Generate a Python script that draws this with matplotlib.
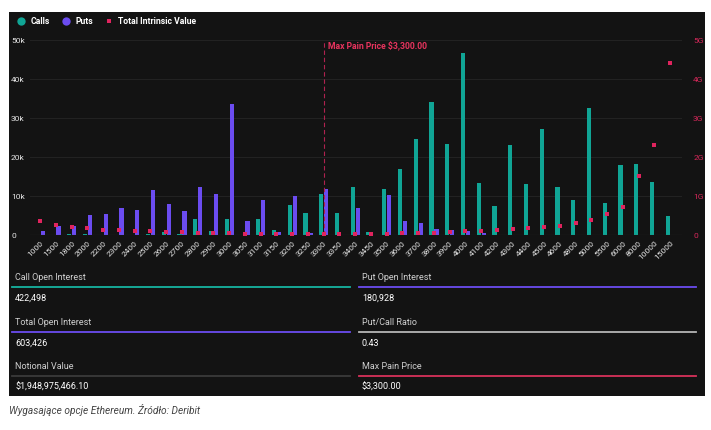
import numpy as np
import matplotlib
matplotlib.use("Agg")
import matplotlib.pyplot as plt
import matplotlib.transforms as mtransforms
from matplotlib.patches import Rectangle
from matplotlib.lines import Line2D

plt.rcParams['font.family'] = ['Roboto', 'DejaVu Sans']

# strike prices (categories)
strikes = ["1000", "1500", "1800", "2000", "2200", "2300", "2400", "2500", "2600", "2700",
           "2800", "2900", "3000", "3050", "3100", "3150", "3200", "3250", "3300", "3350",
           "3400", "3450", "3500", "3600", "3700", "3800", "3900", "4000", "4100", "4200",
           "4300", "4400", "4500", "4600", "4800", "5000", "5500", "6000", "8000", "10000",
           "15000"]

# open interest (contracts)
calls = [0, 0, 200, 300, 0, 0, 0, 300, 700, 300,
         4100, 1000, 4200, 0, 4100, 1300, 7600, 5700, 10500, 5700,
         12400, 850, 11700, 17000, 24600, 34100, 23300, 46700, 13400, 7400,
         23100, 13000, 27300, 12400, 9000, 32600, 8100, 17900, 18300, 13500,
         4800]
puts = [1000, 2300, 2300, 5100, 5300, 6900, 6500, 11500, 8000, 6100,
        12200, 10400, 33500, 3600, 8900, 850, 10100, 400, 11900, 0,
        7000, 0, 10300, 3600, 3100, 1500, 1200, 1100, 400, 0,
        0, 0, 0, 0, 0, 0, 0, 0, 0, 0,
        0]
# total intrinsic value (billions USD)
tiv = [0.35, 0.25, 0.20, 0.17, 0.14, 0.12, 0.10, 0.09, 0.08, 0.07,
       0.05, 0.04, 0.04, 0.03, 0.025, 0.025, 0.025, 0.02, 0.02, 0.025,
       0.025, 0.025, 0.03, 0.04, 0.05, 0.06, 0.08, 0.095, 0.10, 0.12,
       0.15, 0.17, 0.20, 0.24, 0.31, 0.38, 0.55, 0.73, 1.51, 2.31,
       4.42]

max_pain = "3300"

left_ticks = ["0", "10k", "20k", "30k", "40k", "50k"]
right_ticks = ["0", "1G", "2G", "3G", "4G", "5G"]

stats = [
    ("Call Open Interest", "422,498", "#16b3a0"),
    ("Put Open Interest", "180,928", "#6b4cf0"),
    ("Total Open Interest", "603,426", "#6b4cf0"),
    ("Put/Call Ratio", "0.43", "#b5b5b5"),
    ("Notional Value", "$1,948,975,466.10", "#3a3a3a"),
    ("Max Pain Price", "$3,300.00", "#d8315b"),
]

W, H = 711, 431
C_CALL = "#10a595"
C_PUT = "#6b4cf0"
C_TIV = "#e0245e"
BG = "#131313"

def fx(px):
    return px / W

def fy(py):
    return 1 - py / H

fig = plt.figure(figsize=(W / 100, H / 100), dpi=100, facecolor="white")
fig.add_artist(Rectangle((fx(9), fy(397)), fx(705) - fx(9), fy(13) - fy(397),
                         transform=fig.transFigure, facecolor=BG, edgecolor="none", zorder=0))

ax = fig.add_axes([fx(30), fy(236), fx(682) - fx(30), fy(41) - fy(236)])
ax.set_facecolor(BG)
x = np.arange(len(strikes))
bw = 0.27
ax.bar(x - 0.16, calls, bw, color=C_CALL, zorder=3)
ax.bar(x + 0.16, puts, bw, color=C_PUT, zorder=3)
ax.set_xlim(-0.65, len(strikes) - 0.25)
ax.set_ylim(0, 50000)
ax.set_yticks(range(0, 50001, 10000))
ax.set_yticklabels([])
ax.grid(axis="y", color="#232323", lw=0.7, zorder=0)
ax.axhline(0, color="#3a3a3a", lw=0.8, zorder=4)
for s in ax.spines.values():
    s.set_visible(False)
ax.tick_params(axis="y", length=0)
tr = mtransforms.blended_transform_factory(fig.transFigure, ax.transData)
for i, lab in enumerate(left_ticks):
    ax.text(fx(11), i * 10000, lab, transform=tr, color="#e6e6e6", fontsize=6,
            ha="left", va="center")
ax.set_xticks(x)
ax.set_xticklabels(strikes, rotation=45, ha="right", rotation_mode="anchor")
ax.tick_params(axis="x", length=0, labelsize=6, labelcolor="#e6e6e6", pad=3)

mp = strikes.index(max_pain)
ax.axvline(mp, color="#b0224f", lw=0.8, ls=(0, (4, 2.5)), zorder=5)
ax.text(mp + 0.25, 48900, "Max Pain Price $3,300.00", color="#e8345e",
        fontsize=6.2, fontweight="bold", va="center", ha="left")

ax2 = ax.twinx()
ax2.plot(x, tiv, ls="none", marker="s", ms=2.8, mew=0, color=C_TIV, zorder=6)
ax2.set_ylim(0, 5)
ax2.set_yticks(range(6))
ax2.set_yticklabels(right_ticks)
ax2.tick_params(axis="y", length=0, labelsize=6, labelcolor="#d6285a", pad=8)
for s in ax2.spines.values():
    s.set_visible(False)

# legend
fig.add_artist(Line2D([fx(21)], [fy(22)], marker="o", ms=6, mew=0, color=C_CALL, transform=fig.transFigure))
fig.text(fx(31), fy(22), "Calls", color="white", fontsize=6.2, fontweight="bold", va="center")
fig.add_artist(Line2D([fx(66)], [fy(22)], marker="o", ms=6, mew=0, color=C_PUT, transform=fig.transFigure))
fig.text(fx(76), fy(22), "Puts", color="white", fontsize=6.2, fontweight="bold", va="center")
fig.add_artist(Line2D([fx(109)], [fy(22)], marker="s", ms=2.8, mew=0, color=C_TIV, transform=fig.transFigure))
fig.text(fx(118), fy(22), "Total Intrinsic Value", color="white", fontsize=6.2, fontweight="bold", va="center")

# stats panel
cols = [(15, 350), (362, 696)]
rows = [278, 323, 367]
for i, (label, value, col) in enumerate(stats):
    x0, x1 = cols[i % 2]
    y0 = rows[i // 2]
    fig.text(fx(x0), fy(y0), label, color="#d0d0d0", fontsize=6.5, va="center")
    fig.add_artist(Line2D([fx(x0 - 3), fx(x1)], [fy(y0 + 10), fy(y0 + 10)], color=col, lw=1.3,
                          transform=fig.transFigure))
    fig.text(fx(x0), fy(y0 + 20.5), value, color="white", fontsize=6.5, va="center")

fig.text(fx(9), fy(410), "Wygasające opcje Ethereum. Źródło: Deribit", color="#444444",
         fontsize=7.3, fontstyle="italic", va="center")

fig.savefig("out.png", dpi=100, facecolor="white")
